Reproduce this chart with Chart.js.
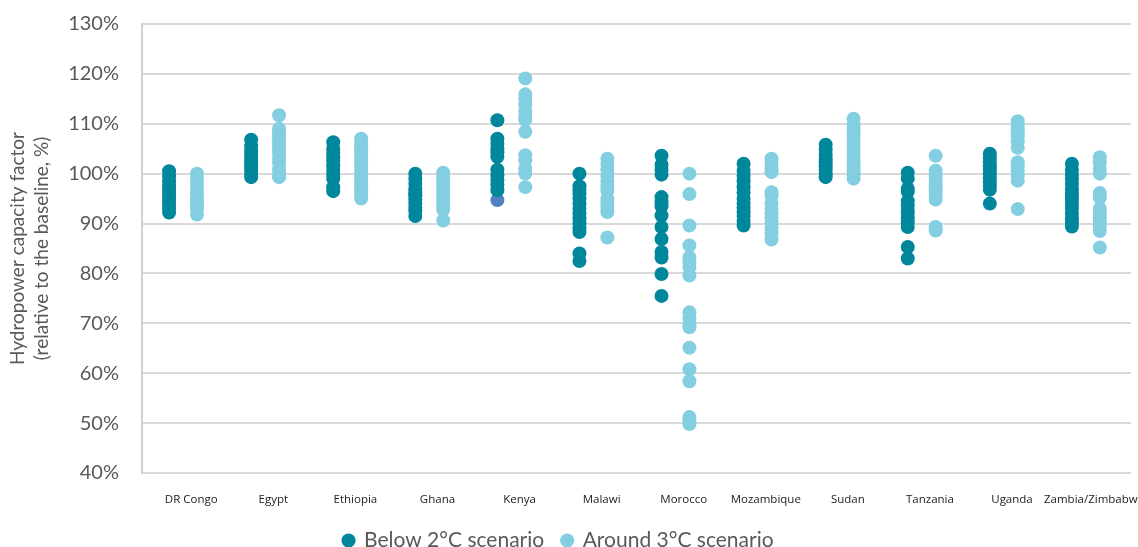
<!DOCTYPE html>
<html>
<head>
<meta charset="utf-8">
<script src="https://cdn.jsdelivr.net/npm/chart.js@4/dist/chart.umd.min.js"></script>
<style>
    html, body { margin: 0; padding: 0; background: #ffffff; }
    #wrap { width: 1138px; height: 547px; }
</style>
</head>
<body>
<div id="wrap"><canvas id="hydroChart" width="1138" height="547"></canvas></div>
<script>
const countries = [
    "DR Congo", "Egypt", "Ethiopia", "Ghana", "Kenya", "Malawi",
    "Morocco", "Mozambique", "Sudan", "Tanzania", "Uganda", "Zambia/Zimbabwe"
];

// values in % of baseline, one list per country
const below2 = [
    [100.5, 99.5, 98.5, 97.5, 96.8, 96, 95.3, 94.5, 93.8, 93, 92.2],
    [106.8, 105.5, 104.5, 103.8, 103, 102.3, 101.5, 100.8, 100, 99.3],
    [106.3, 105, 104.2, 103.3, 102.5, 101.5, 100.6, 99.8, 99, 97.3, 96.5],
    [100, 99, 98, 97, 96.3, 95.5, 94.8, 94, 93.2, 92.5, 91.5],
    [110.7, 107, 106, 105, 104.3, 103.4, 100.8, 99.7, 98.8, 97.8, 96.7],
    [100, 97.5, 96.8, 96, 95, 94, 93, 92, 91, 90, 89, 88.3, 84, 82.5],
    [103.6, 101.8, 100.8, 99.8, 95.3, 94.3, 93.5, 91.6, 89.3, 86.9, 84.3, 83.2, 79.9, 75.5],
    [102, 100.6, 99.6, 98.5, 97.3, 96.2, 95, 94, 93.2, 92.3, 91.5, 90.5, 89.6],
    [105.8, 104.8, 103.8, 103, 102.3, 101.5, 100.8, 100, 99.3],
    [100.2, 99, 97, 96.4, 94.5, 93.6, 92.6, 91, 90.2, 89.3, 85.3, 83],
    [104, 103.2, 102.4, 101.5, 100.8, 100, 99.2, 98.4, 97.6, 96.8, 94],
    [102, 100.8, 99.8, 99, 98, 97, 96.2, 95.5, 94.7, 93.8, 93, 92, 91, 90.2, 89.4]
];

const around3 = [
    [100, 99, 98, 97, 96, 95, 94.5, 93.8, 93, 91.8],
    [111.7, 109, 108.3, 107.5, 106.5, 105.5, 104.8, 104, 103, 102.2, 101, 100, 99.3],
    [107, 106.2, 105.3, 104.5, 103.5, 102.6, 101.7, 100.5, 99.5, 98.5, 97.5, 96.7, 95.8, 95],
    [100.2, 99.4, 98.5, 97.7, 96.8, 96, 95.2, 94.4, 93.5, 92.8, 90.6],
    [119.1, 115.9, 115, 113.9, 112.5, 111.4, 110.8, 108.4, 103.7, 102.7, 101, 100, 97.3],
    [103, 101.8, 100.8, 99.6, 98.5, 97.5, 96.6, 95, 94.2, 93.3, 92.3, 87.2],
    [100, 95.9, 89.6, 85.6, 83.2, 82.2, 81.3, 79.6, 72.2, 71, 69.9, 69.2, 65.1, 60.8, 58.4, 51.2, 50.4, 49.8],
    [103, 102, 101, 100.3, 96.3, 95.5, 94, 93, 92, 91, 90, 89, 88, 86.8],
    [111, 109.7, 108.7, 107.8, 106.8, 105.8, 104.8, 104, 103, 102.2, 101.3, 100.5, 99.8, 99],
    [103.6, 100.6, 99.8, 99, 98.2, 97.3, 96.5, 95.6, 94.8, 89.3, 88.6],
    [110.5, 109.8, 109, 108.3, 107.5, 106.5, 105.2, 102.3, 101.5, 100.6, 99.6, 98.6, 92.9],
    [103.3, 102.3, 101, 100, 96.1, 95.2, 93, 92, 91.2, 90.4, 89.5, 88.5, 85.2]
];

// a few stray points drawn under the dark series (not in legend)
const extraCountries = ["Ghana", "Kenya", "Tanzania"];
const extraValues = [95.8, 94.7, 91.9];

const yTicks = [40, 50, 60, 70, 80, 90, 100, 110, 120, 130];

const darkColor = "#00879c";
const lightColor = "#83cfe1";
const extraColor = "#5080c2";

function toPoints(lists, shift)
{
    const points = [];
    lists.forEach((vals, i) =>
    {
        vals.forEach(v =>
        {
            points.push({ x: i + 1 + shift, y: v });
        });
    });
    return points;
}

const extraPoints = extraCountries.map((c, i) => ({
    x: countries.indexOf(c) + 1 - 0.17,
    y: extraValues[i]
}));

const ctx = document.getElementById("hydroChart").getContext("2d");

new Chart(ctx, {
    type: "scatter",
    data: {
        datasets: [
            {
                label: "Below 2°C scenario",
                data: toPoints(below2, -0.17),
                backgroundColor: darkColor,
                borderWidth: 0,
                pointRadius: 7,
                order: 2
            },
            {
                label: "Around 3°C scenario",
                data: toPoints(around3, 0.17),
                backgroundColor: lightColor,
                borderWidth: 0,
                pointRadius: 7,
                order: 1
            },
            {
                label: "other",
                data: extraPoints,
                backgroundColor: extraColor,
                borderWidth: 0,
                pointRadius: 7,
                order: 3
            }
        ]
    },
    options: {
        responsive: false,
        animation: false,
        layout: {
            padding: { left: 6, right: 0, top: 24, bottom: -14 }
        },
        plugins: {
            tooltip: { enabled: false },
            legend: {
                position: "bottom",
                labels: {
                    usePointStyle: true,
                    pointStyle: "circle",
                    boxWidth: 10,
                    boxHeight: 10,
                    padding: 18,
                    color: "#595959",
                    font: { family: "Lato, 'Open Sans', sans-serif", size: 21 },
                    filter: item => item.datasetIndex < 2,
                    sort: (a, b) => a.datasetIndex - b.datasetIndex,
                    generateLabels: chart =>
                    {
                        const items = Chart.defaults.plugins.legend.labels.generateLabels(chart);
                        // extra room after the first entry
                        items[0].text += "     ";
                        return items;
                    }
                }
            }
        },
        scales: {
            x: {
                type: "linear",
                min: 0.5,
                max: 12.55,
                afterBuildTicks: scale =>
                {
                    scale.ticks = countries.map((c, i) => ({ value: i + 1.1 }));
                },
                afterFit: scale =>
                {
                    scale.paddingLeft = 0;
                    scale.paddingRight = 0;
                    scale.height = 39;
                },
                ticks: {
                    autoSkip: false,
                    maxRotation: 0,
                    minRotation: 0,
                    padding: 20,
                    color: "#222222",
                    font: { family: "'Liberation Sans Narrow', 'Open Sans', sans-serif", size: 11.5 },
                    callback: (value, index) => countries[index]
                },
                grid: { display: false, drawTicks: false },
                border: { display: false }
            },
            y: {
                min: 40,
                max: 130,
                afterBuildTicks: scale =>
                {
                    scale.ticks = yTicks.map(v => ({ value: v }));
                },
                afterFit: scale =>
                {
                    scale.width = 136;
                    scale.paddingTop = 0;
                    scale.paddingBottom = 0;
                },
                ticks: {
                    padding: 23,
                    color: "#595959",
                    font: { family: "Lato, 'Open Sans', sans-serif", size: 20 },
                    callback: value => value + "%"
                },
                grid: {
                    color: "#d9d9d9",
                    lineWidth: 2,
                    drawTicks: false
                },
                border: { display: true, color: "#d0d0d0", width: 2 },
                title: {
                    display: true,
                    text: ["Hydropower capacity factor", "(relative to the baseline, %)"],
                    color: "#595959",
                    font: { family: "Lato, 'Open Sans', sans-serif", size: 19, lineHeight: 1.25 },
                    padding: { top: 0, bottom: 6 }
                }
            }
        }
    }
});
</script>
</body>
</html>
